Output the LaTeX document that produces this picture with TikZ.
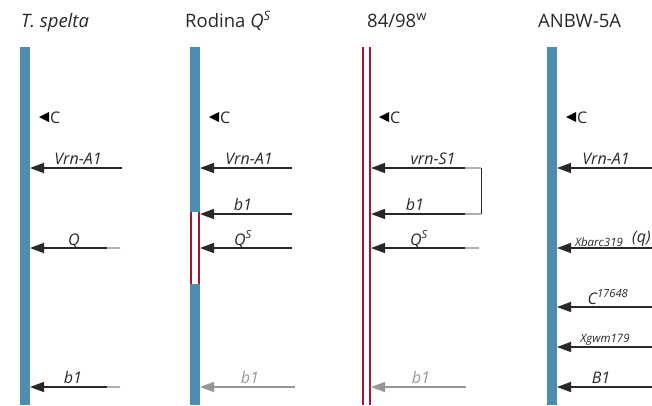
\documentclass[tikz,border=0pt]{standalone}
\usepackage{fontspec}
\setmainfont{Open Sans}
\usetikzlibrary{arrows.meta}
\definecolor{chromblue}{RGB}{78,141,176}
\definecolor{chromred}{RGB}{168,20,52}
\definecolor{markdark}{RGB}{40,40,40}
\definecolor{markgray}{RGB}{150,150,150}
\definecolor{taillight}{RGB}{175,175,175}
\begin{document}
\begin{tikzpicture}[x=1pt,y=-1pt,
  chrom/.style={fill=chromblue, draw=none},
  redline/.style={draw=chromred, line width=1.8pt},
  marker/.style={draw=markdark, line width=1.5pt, -{Triangle[length=14pt,width=10pt,fill=markdark]}},
  faded/.style={draw=markgray, line width=1.5pt, -{Triangle[length=14pt,width=10pt,fill=markgray]}},
  tail/.style={draw=taillight, line width=1.5pt},
  title/.style={anchor=base west, inner sep=0pt, font=\fontsize{18.5}{22}\selectfont, text=markdark},
  lab/.style={anchor=base, inner sep=0pt, font=\fontsize{16}{19}\selectfont\itshape, text=markdark},
  smalllab/.style={anchor=base, inner sep=0pt, font=\fontsize{11.5}{13}\selectfont\itshape, text=markdark},
  graylab/.style={lab, text=markgray},
  cen/.style={fill=black},
  clab/.style={anchor=base west, inner sep=0pt, font=\fontsize{16}{19}\selectfont, text=markdark}
]
\useasboundingbox (0,0) rectangle (652,405);

% titles
\node[title] (t1) at (21,27) {\itshape T. spelta};
\node[title] (t2) at (185,27) {Rodina \textit{Q}\textsuperscript{\textit{S}}};
\node[title] (t3) at (367,27) {84/98\textsuperscript{w}};
\node[title] (t4) at (538,27) {ANBW-5A};

% chromosomes
\fill[chrom] (20,47) rectangle (30,405);
\fill[chrom] (190,47) rectangle (200,212);
\fill[chrom] (190,284) rectangle (200,405);
\draw[redline] (191,212) -- (191,284);
\draw[redline] (199,212) -- (199,284);
\draw[redline] (363,47) -- (363,405);
\draw[redline] (370,47) -- (370,405);
\fill[chrom] (547,47) rectangle (557,405);

% centromere markers
\foreach \i/\x in {1/39,2/209,3/379,4/566}{
  \fill[cen] (\x,117) -- (\x+10,112) -- (\x+10,122) -- cycle;
  \node[clab] (c\i) at (\x+11,123) {C};
}

% T. spelta
\coordinate (a1s) at (122,168); \coordinate (a1e) at (30,168);
\draw[marker] (a1s) -- (a1e);
\node[lab] (l1a) at (78,164.5) {Vrn-A1};
\coordinate (a2s) at (120,248); \coordinate (a2m) at (107,248); \coordinate (a2e) at (30,248);
\draw[tail] (a2s) -- (a2m); \draw[marker] (a2m) -- (a2e);
\node[lab] (l1b) at (74,245) {Q};
\coordinate (a3s) at (120,387); \coordinate (a3m) at (107,387); \coordinate (a3e) at (30,387);
\draw[tail] (a3s) -- (a3m); \draw[marker] (a3m) -- (a3e);
\node[lab] (l1c) at (73,383) {b1};

% Rodina Q^S
\coordinate (b1s) at (292,168); \coordinate (b1e) at (200,168);
\draw[marker] (b1s) -- (b1e);
\node[lab] (l2a) at (249,164.5) {Vrn-A1};
\coordinate (b2s) at (292,214); \coordinate (b2e) at (200,214);
\draw[marker] (b2s) -- (b2e);
\node[lab] (l2b) at (243,210.5) {b1};
\coordinate (b3s) at (292,248); \coordinate (b3e) at (200,248);
\draw[marker] (b3s) -- (b3e);
\node[lab] (l2c) at (243,245) {Q\textsuperscript{S}};
\coordinate (b4s) at (295,387); \coordinate (b4e) at (200,387);
\draw[faded] (b4s) -- (b4e);
\node[graylab] (l2d) at (250,383) {b1};

% 84/98^w
\coordinate (c1s) at (481,168); \coordinate (c1m) at (465,168); \coordinate (c1e) at (371,168);
\draw[tail] (c1s) -- (c1m); \draw[marker] (c1m) -- (c1e);
\node[lab] (l3a) at (433,164.5) {vrn-S1};
\coordinate (c2s) at (481,214); \coordinate (c2m) at (465,214); \coordinate (c2e) at (371,214);
\draw[tail] (c2s) -- (c2m); \draw[marker] (c2m) -- (c2e);
\node[lab] (l3b) at (415,210.5) {b1};
\draw[draw=markdark, line width=1pt] (c1s) -- (c2s);
\coordinate (c3s) at (479,248); \coordinate (c3m) at (465,248); \coordinate (c3e) at (371,248);
\draw[tail] (c3s) -- (c3m); \draw[marker] (c3m) -- (c3e);
\node[lab] (l3c) at (419,245) {Q\textsuperscript{S}};
\coordinate (c4s) at (466,387); \coordinate (c4e) at (371,387);
\draw[faded] (c4s) -- (c4e);
\node[graylab] (l3d) at (421,383) {b1};

% ANBW-5A
\coordinate (d1s) at (652,168); \coordinate (d1e) at (557,168);
\draw[marker] (d1s) -- (d1e);
\node[lab] (l4a) at (606,164.5) {Vrn-A1};
\coordinate (d2s) at (652,248); \coordinate (d2e) at (557,248);
\draw[marker] (d2s) -- (d2e);
\node[smalllab] (l4b) at (599,246) {Xbarc319};
\node[lab, anchor=base west] (l4q) at (632,242) {(q)};
\coordinate (d3s) at (652,307); \coordinate (d3e) at (557,307);
\draw[marker] (d3s) -- (d3e);
\node[lab] (l4c) at (608,304) {C\textsuperscript{17648}};
\coordinate (d4s) at (652,347); \coordinate (d4e) at (557,347);
\draw[marker] (d4s) -- (d4e);
\node[smalllab] (l4d) at (605,342) {Xgwm179};
\coordinate (d5s) at (652,387); \coordinate (d5e) at (557,387);
\draw[marker] (d5s) -- (d5e);
\node[lab] (l4e) at (601,383) {B1};
\end{tikzpicture}
\end{document}
